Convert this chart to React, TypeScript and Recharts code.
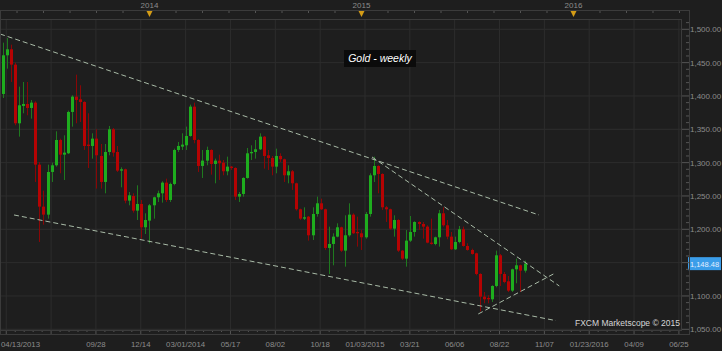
import React from 'react';
import { ComposedChart, Bar, XAxis, YAxis, CartesianGrid, ReferenceLine } from 'recharts';

const FONT = '"Liberation Sans", Arial, sans-serif';
const BG = '#1e1e1e';
const GRID = '#2d2d2d';
const AXIS_TEXT = '#8c8c8c';
const TICK = '#555555';
const UP_BODY = '#1ead1e';
const UP_WICK = '#1f7a1f';
const DN_BODY = '#b50303';
const DN_WICK = '#8a0606';
const TREND = '#a9bba7';

// Weekly candles, first week starts 2013-04-21 (day 8 counted from 04/13/2013)
const firstCandleDay = 8;
const weekStep = 7;

const openP = [
  1403, 1461, 1470, 1447, 1359, 1385, 1388, 1382, 1390, 1297,
  1234, 1222, 1286, 1296, 1334, 1312, 1314, 1376, 1399, 1395,
  1391, 1327, 1325, 1336, 1310, 1271, 1316, 1350, 1316, 1288,
  1290, 1243, 1250, 1228, 1238, 1203, 1213, 1236, 1248, 1254,
  1270, 1244, 1268, 1319, 1324, 1326, 1340, 1384, 1334, 1295,
  1303, 1319, 1298, 1303, 1300, 1287, 1294, 1292, 1249, 1253,
  1277, 1314, 1316, 1320, 1339, 1311, 1307, 1294, 1310, 1305,
  1281, 1287, 1269, 1230, 1216, 1219, 1191, 1223, 1239, 1230,
  1172, 1178, 1189, 1203, 1168, 1191, 1222, 1196, 1194, 1188,
  1223, 1281, 1295, 1283, 1233, 1230, 1201, 1214, 1168, 1156,
  1183, 1196, 1211, 1208, 1204, 1180, 1178, 1188, 1224, 1206,
  1189, 1170, 1181, 1200, 1175, 1169, 1164, 1133, 1099, 1097,
  1095, 1115, 1161, 1133, 1122, 1108, 1140, 1146, 1138,
];
const highP = [
  1480, 1487, 1477, 1450, 1414, 1421, 1421, 1394, 1392, 1301,
  1258, 1297, 1300, 1347, 1336, 1341, 1378, 1401, 1432, 1416,
  1392, 1374, 1344, 1350, 1328, 1328, 1355, 1352, 1325, 1293,
  1291, 1256, 1254, 1266, 1244, 1224, 1238, 1249, 1258, 1272,
  1276, 1270, 1321, 1331, 1344, 1354, 1387, 1390, 1335, 1319,
  1324, 1320, 1306, 1312, 1304, 1309, 1295, 1293, 1256, 1278,
  1322, 1326, 1334, 1344, 1340, 1319, 1310, 1321, 1314, 1306,
  1296, 1289, 1270, 1231, 1233, 1220, 1233, 1249, 1246, 1231,
  1204, 1194, 1209, 1204, 1221, 1239, 1224, 1219, 1199, 1226,
  1284, 1309, 1296, 1284, 1235, 1231, 1221, 1215, 1169, 1199,
  1220, 1212, 1212, 1211, 1206, 1216, 1189, 1229, 1233, 1214,
  1196, 1189, 1205, 1204, 1179, 1171, 1165, 1134, 1106, 1101,
  1116, 1168, 1163, 1136, 1130, 1141, 1156, 1147, 1153,
];
const lowP = [
  1397, 1441, 1421, 1356, 1339, 1374, 1371, 1366, 1271, 1181,
  1207, 1216, 1271, 1294, 1284, 1274, 1313, 1354, 1359, 1361,
  1319, 1292, 1306, 1261, 1261, 1254, 1311, 1309, 1286, 1263,
  1239, 1236, 1225, 1214, 1186, 1193, 1179, 1216, 1241, 1240,
  1241, 1241, 1266, 1316, 1319, 1319, 1339, 1329, 1286, 1277,
  1296, 1282, 1269, 1274, 1281, 1281, 1289, 1244, 1241, 1249,
  1276, 1304, 1306, 1319, 1291, 1289, 1281, 1284, 1301, 1271,
  1269, 1259, 1228, 1214, 1214, 1183, 1184, 1219, 1229, 1169,
  1133, 1146, 1188, 1166, 1144, 1189, 1193, 1174, 1169, 1186,
  1219, 1271, 1254, 1229, 1211, 1199, 1189, 1166, 1154, 1144,
  1181, 1189, 1199, 1186, 1179, 1177, 1176, 1174, 1204, 1185,
  1169, 1169, 1179, 1174, 1168, 1162, 1131, 1077, 1089, 1089,
  1091, 1113, 1115, 1119, 1106, 1106, 1119, 1106, 1135,
];
const closeP = [
  1461, 1470, 1447, 1359, 1386, 1388, 1382, 1390, 1297, 1234,
  1222, 1286, 1296, 1334, 1312, 1315, 1376, 1399, 1394, 1391,
  1325, 1325, 1336, 1311, 1271, 1316, 1350, 1315, 1288, 1290,
  1243, 1251, 1228, 1238, 1203, 1214, 1236, 1248, 1254, 1270,
  1244, 1268, 1319, 1325, 1327, 1340, 1384, 1334, 1295, 1303,
  1319, 1298, 1303, 1299, 1287, 1294, 1292, 1249, 1253, 1277,
  1314, 1316, 1320, 1339, 1310, 1307, 1294, 1310, 1305, 1281,
  1287, 1269, 1230, 1216, 1218, 1191, 1223, 1239, 1230, 1172,
  1178, 1189, 1203, 1168, 1191, 1222, 1194, 1194, 1188, 1223,
  1281, 1295, 1283, 1233, 1230, 1201, 1214, 1168, 1156, 1183,
  1196, 1211, 1208, 1204, 1180, 1178, 1188, 1224, 1206, 1189,
  1170, 1181, 1200, 1175, 1169, 1163, 1133, 1099, 1095, 1095,
  1115, 1161, 1133, 1121, 1108, 1140, 1146, 1138, 1148.48,
];

const lastPrice = closeP[closeP.length - 1];

// Bottom date axis (days counted from 04/13/2013)
const gridDays = [14, 91, 168, 245, 322, 399, 476, 553, 630, 707, 784, 861, 938, 1015, 1092, 1169];
const dateTickDays = [0, 168, 245, 322, 399, 476, 553, 630, 707, 784, 861, 938, 1015, 1092, 1169];
const dateTickLabels = [
  '04/13/2013', '09/28', '12/14', '03/01/2014', '05/17', '08/02', '10/18', '01/03/2015',
  '03/21', '06/06', '08/22', '11/07', '01/23/2016', '04/09', '06/25',
];
const minorPerMajor = 5;

// Top year markers
const yearDays = [260, 624, 988];
const yearLabels = ['2014', '2015', '2016'];
const topTickStep = 45.5;

// Price axis
const yMajorTicks = [1050, 1100, 1150, 1200, 1250, 1300, 1350, 1400, 1450, 1500];
const yMinorStep = 10;

// Trend lines (day, price)
const trendStartDay = [3.3, 27.3, 642, 824.5];
const trendStartPrice = [1493, 1221.5, 1308.5, 1073];
const trendEndDay = [928.7, 957.9, 963.6, 957.9];
const trendEndPrice = [1221.5, 1063, 1115, 1135];

const X_DOMAIN: [number, number] = [3.26, 1172.6];
const Y_DOMAIN: [number, number] = [1048.95, 1515.45];

const rows = openP.map((o, i) => ({
  d: firstCandleDay + weekStep * i,
  o,
  h: highP[i],
  l: lowP[i],
  c: closeP[i],
}));

const gridSet = new Set(gridDays);
const bottomTicks: number[] = [];
gridDays.forEach((g, i) => {
  bottomTicks.push(g);
  const next = gridDays[i + 1] ?? g + 77;
  const step = (next - g) / minorPerMajor;
  for (let k = 1; k < minorPerMajor; k++) {
    const v = g + step * k;
    if (v < X_DOMAIN[1]) bottomTicks.push(+v.toFixed(2));
  }
});

const topTicks: number[] = [];
for (let v = yearDays[0]; v > X_DOMAIN[0]; v -= topTickStep) topTicks.unshift(+v.toFixed(2));
for (let v = yearDays[0] + topTickStep; v < X_DOMAIN[1]; v += topTickStep) topTicks.push(+v.toFixed(2));

const yAllTicks: number[] = [];
for (let v = yMajorTicks[0]; v <= Y_DOMAIN[1]; v += yMinorStep) yAllTicks.push(v);

const fmt = (v: number) =>
  v.toLocaleString('en-US', { minimumFractionDigits: 2, maximumFractionDigits: 2 });

const Candle = (props: any) => {
  const { x, y, width, height, payload } = props;
  if (!payload || x == null || y == null) return null;
  const { o, h, l, c } = payload;
  const k = h > l ? height / (h - l) : 0;
  const py = (v: number) => y + (h - v) * k;
  const up = c >= o;
  const cx = Math.floor(x + width / 2);
  const top = py(Math.max(o, c));
  const bot = py(Math.min(o, c));
  return (
    <g>
      <rect x={cx} y={y} width={1} height={Math.max(1, height)} fill={up ? UP_WICK : DN_WICK} />
      <rect x={cx - 1} y={top} width={3} height={Math.max(1, bot - top)} fill={up ? UP_BODY : DN_BODY} />
    </g>
  );
};

const BottomTick = (props: any) => {
  const { x, y, payload } = props;
  const v = payload.value;
  const major = gridSet.has(v);
  const li = dateTickDays.indexOf(v);
  return (
    <g>
      <line x1={x} x2={x} y1={y} y2={y + (major ? 4 : 2)} stroke={TICK} />
      {li >= 0 && (
        <text x={x} y={y + 17} textAnchor="middle" fontSize={7.8} fill={AXIS_TEXT} fontFamily={FONT}>
          {dateTickLabels[li]}
        </text>
      )}
      {v === gridDays[0] && (
        <text x={1} y={y + 17} textAnchor="start" fontSize={7.8} fill={AXIS_TEXT} fontFamily={FONT}>
          {dateTickLabels[0]}
        </text>
      )}
    </g>
  );
};

const TopTick = (props: any) => {
  const { x, y, payload } = props;
  const v = payload.value;
  const yi = yearDays.findIndex((d) => Math.abs(d - v) < 0.01);
  return (
    <g>
      <line x1={x} x2={x} y1={y - 9} y2={y - 6} stroke={TICK} />
      {yi >= 0 && (
        <g>
          <polygon points={`${x - 3},${y - 8} ${x + 3},${y - 8} ${x},${y - 2}`} fill="#d49c16" />
          <text x={x} y={y - 11} textAnchor="middle" fontSize={8} fill={AXIS_TEXT} fontFamily={FONT}>
            {yearLabels[yi]}
          </text>
        </g>
      )}
    </g>
  );
};

const RightTick = (props: any) => {
  const { x, y, payload } = props;
  const v = payload.value;
  const major = yMajorTicks.includes(v);
  // the current-price marker covers the nearest round level's label
  const covered = Math.abs(v - lastPrice) < 12;
  return (
    <g>
      <line x1={major ? x : x + 5} x2={x + 8} y1={y} y2={y} stroke={TICK} />
      {major && !covered && (
        <text x={x + 9} y={y + 3} fontSize={8} fill={AXIS_TEXT} fontFamily={FONT}>
          {fmt(v)}
        </text>
      )}
    </g>
  );
};

const PriceLabel = (p: any) => {
  const vb = p.viewBox || {};
  const x = (vb.x ?? 0) + (vb.width ?? 0) + 7;
  const y = vb.y ?? 0;
  return (
    <g>
      <rect x={x} y={y - 6.5} width={33} height={13} fill="#3b9de9" />
      <text x={x + 16.5} y={y + 3} textAnchor="middle" fontSize={7.5} fill="#e4edff" fontFamily={FONT}>
        {fmt(lastPrice)}
      </text>
    </g>
  );
};

export default function App() {
  return (
    <div
      style={{
        position: 'absolute',
        left: 0,
        top: 0,
        width: 722,
        height: 351,
        background: BG,
        fontFamily: FONT,
        overflow: 'hidden',
      }}
    >
      <ComposedChart width={722} height={351} data={rows} margin={{ top: 0, right: 0, bottom: 0, left: 0 }}>
        <CartesianGrid
          xAxisId="b"
          yAxisId="p"
          stroke={GRID}
          verticalValues={gridDays}
          horizontalValues={yMajorTicks}
        />
        <XAxis
          xAxisId="b"
          type="number"
          dataKey="d"
          domain={X_DOMAIN}
          allowDataOverflow
          ticks={bottomTicks}
          interval={0}
          height={21}
          tickSize={0}
          tickMargin={0}
          axisLine={false}
          tickLine={false}
          tick={BottomTick}
        />
        <XAxis
          xAxisId="t"
          orientation="top"
          type="number"
          dataKey="d"
          domain={X_DOMAIN}
          allowDataOverflow
          ticks={topTicks}
          interval={0}
          height={19}
          tickSize={0}
          tickMargin={0}
          axisLine={false}
          tickLine={false}
          tick={TopTick}
        />
        <YAxis
          yAxisId="p"
          orientation="right"
          type="number"
          domain={Y_DOMAIN}
          allowDataOverflow
          ticks={yAllTicks}
          interval={0}
          width={41}
          tickSize={0}
          tickMargin={0}
          axisLine={false}
          tickLine={false}
          tick={RightTick}
        />
        <Bar
          xAxisId="b"
          yAxisId="p"
          dataKey={(r: any) => [r.l, r.h]}
          barSize={3}
          shape={Candle}
          isAnimationActive={false}
        />
        {trendStartDay.map((d, i) => (
          <ReferenceLine
            key={i}
            xAxisId="b"
            yAxisId="p"
            segment={[
              { x: d, y: trendStartPrice[i] },
              { x: trendEndDay[i], y: trendEndPrice[i] },
            ]}
            stroke={TREND}
            strokeWidth={1}
            strokeDasharray="5 3"
            ifOverflow="hidden"
          />
        ))}
        <ReferenceLine
          xAxisId="b"
          yAxisId="p"
          y={lastPrice}
          stroke="none"
          ifOverflow="visible"
          label={PriceLabel}
        />
      </ComposedChart>
      <div
        style={{
          position: 'absolute',
          left: 0,
          top: 10,
          width: 690,
          height: 325,
          border: '1px solid #3b3b3b',
          boxSizing: 'border-box',
          pointerEvents: 'none',
        }}
      />
      <div
        style={{
          position: 'absolute',
          left: 0,
          top: 19,
          width: 682,
          height: 312,
          border: '1px solid #3b3b3b',
          boxSizing: 'border-box',
          pointerEvents: 'none',
        }}
      />
      <div
        style={{
          position: 'absolute',
          left: 344,
          top: 50,
          width: 72,
          height: 17,
          background: '#0b0b0b',
          color: '#ffffff',
          fontStyle: 'italic',
          fontSize: 10.5,
          lineHeight: '17px',
          textAlign: 'center',
        }}
      >
        Gold - weekly
      </div>
      <div
        style={{
          position: 'absolute',
          left: 540,
          top: 318,
          width: 140,
          textAlign: 'right',
          color: '#d6d6d6',
          fontSize: 8.5,
          lineHeight: '10px',
        }}
      >
        FXCM Marketscope © 2015
      </div>
    </div>
  );
}
